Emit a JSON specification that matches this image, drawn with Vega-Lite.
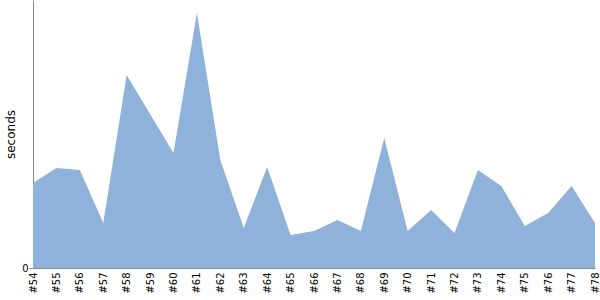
{
  "$schema": "https://vega.github.io/schema/vega-lite/v6.json",
  "autosize": "none",
  "width": 562,
  "height": 268,
  "padding": {"left": 33, "top": 0, "right": 5, "bottom": 32},
  "config": {"view": {"stroke": null}, "font": "DejaVu Sans"},
  "data": {"values": [
    {"build": "#54", "seconds": 85},
    {"build": "#55", "seconds": 100},
    {"build": "#56", "seconds": 98},
    {"build": "#57", "seconds": 45},
    {"build": "#58", "seconds": 193},
    {"build": "#59", "seconds": 154},
    {"build": "#60", "seconds": 115},
    {"build": "#61", "seconds": 255},
    {"build": "#62", "seconds": 108},
    {"build": "#63", "seconds": 40},
    {"build": "#64", "seconds": 101},
    {"build": "#65", "seconds": 33},
    {"build": "#66", "seconds": 37},
    {"build": "#67", "seconds": 48},
    {"build": "#68", "seconds": 37},
    {"build": "#69", "seconds": 130},
    {"build": "#70", "seconds": 37},
    {"build": "#71", "seconds": 58},
    {"build": "#72", "seconds": 35},
    {"build": "#73", "seconds": 98},
    {"build": "#74", "seconds": 82},
    {"build": "#75", "seconds": 42},
    {"build": "#76", "seconds": 55},
    {"build": "#77", "seconds": 82},
    {"build": "#78", "seconds": 45}
  ]},
  "mark": {"type": "area", "color": "#8fb2da", "opacity": 1},
  "encoding": {
    "x": {
      "field": "build", "type": "ordinal",
      "scale": {"type": "point", "padding": 0},
      "axis": {
        "title": null, "labelAngle": -90, "ticks": false, "labelPadding": 4,
        "domainColor": "#888888", "labelFontSize": 10, "labelColor": "#000000",
        "grid": false
      }
    },
    "y": {
      "field": "seconds", "type": "quantitative",
      "scale": {"domain": [0, 268], "nice": false},
      "axis": {
        "title": "seconds", "values": [0], "grid": false,
        "domainColor": "#888888", "tickColor": "#888888", "tickSize": 4,
        "labelFontSize": 10, "labelColor": "#000000", "labelPadding": 1,
        "titleFontSize": 12, "titleFontWeight": "normal", "titleColor": "#000000",
        "titlePadding": 4
      }
    }
  }
}
